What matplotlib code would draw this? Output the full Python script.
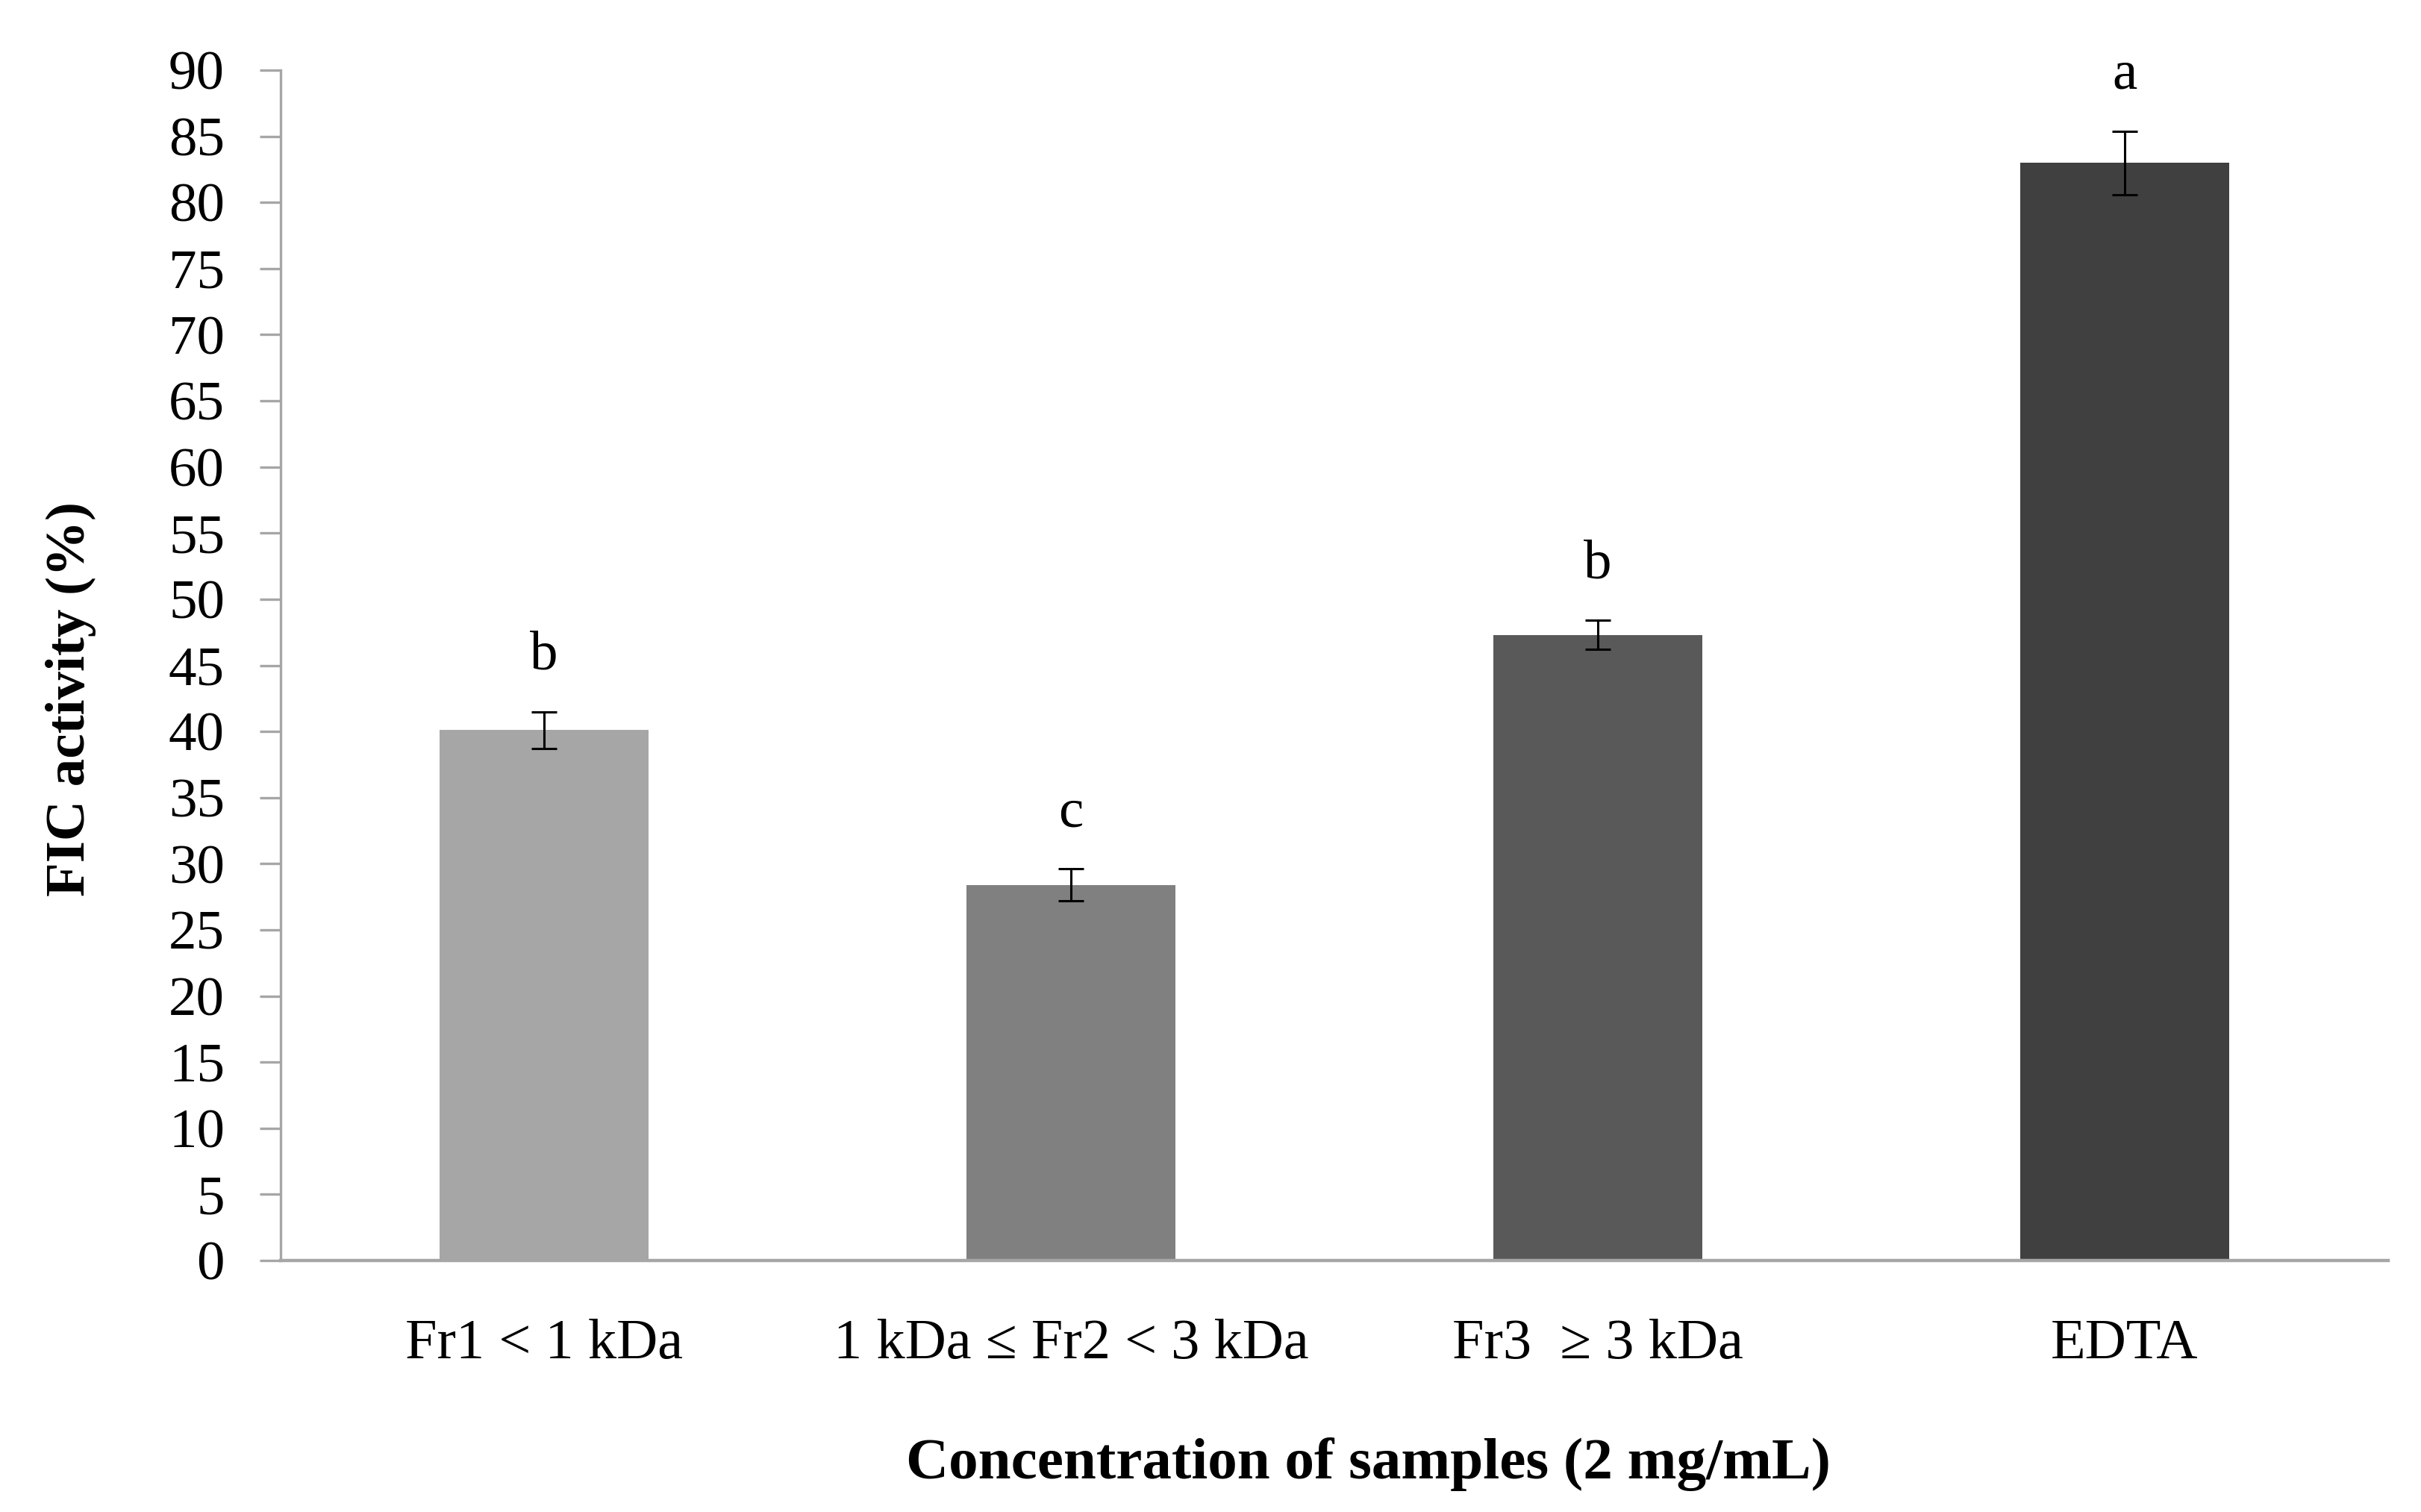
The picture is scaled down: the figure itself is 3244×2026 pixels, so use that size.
import matplotlib
matplotlib.use('Agg')
import matplotlib.pyplot as plt
import numpy as np

plt.rcParams['font.family'] = ['Liberation Serif', 'DejaVu Serif']

categories = ['Fr1 < 1 kDa', '1 kDa \u2264 Fr2 < 3 kDa', 'Fr3  \u2265 3 kDa', 'EDTA']
fic = [40.1, 28.4, 47.3, 83.0]
err = [1.4, 1.2, 1.1, 2.4]
letters = ['b', 'c', 'b', 'a']
colors = ['#A6A6A6', '#808080', '#595959', '#404040']
yticks = list(range(0, 91, 5))

fig = plt.figure(figsize=(16.22, 10.13), dpi=200)
ax = fig.add_axes([0.1159, 0.1663, 0.8705, 0.7873])

x = np.arange(len(categories))
ax.bar(x, fic, width=0.397, color=colors, zorder=2)
ax.errorbar(x, fic, yerr=err, fmt='none', ecolor='black', elinewidth=1.1,
            capsize=6, capthick=1.1, zorder=3)

# significance letters above the error bars
for xi, v, e, l in zip(x, fic, err, letters):
    ax.text(xi, v + e + 3.2, l, ha='center', va='baseline', fontsize=27)

ax.set_xlim(-0.5, 3.5)
ax.set_ylim(0, 90)
ax.set_yticks(yticks)
ax.set_xticks(x)
ax.set_xticklabels(categories, fontsize=27.5)
ax.tick_params(axis='y', labelsize=27, length=10, width=1.2, color='#A6A6A6', pad=17)
ax.tick_params(axis='x', length=0, pad=28)

for s in ['top', 'right']:
    ax.spines[s].set_visible(False)
ax.spines['left'].set_color('#A6A6A6')
ax.spines['left'].set_linewidth(1.2)
ax.spines['bottom'].set_color('#A6A6A6')
ax.spines['bottom'].set_linewidth(1.6)

ax.set_ylabel('FIC activity (%)', fontsize=27, fontweight='bold', va='center')
ax.yaxis.set_label_coords(-0.0995, 0.472)
ax.set_xlabel('Concentration of samples (2 mg/mL)', fontsize=28.5, fontweight='bold', va='center')
ax.xaxis.set_label_coords(0.516, -0.171)

fig.savefig('out.png', dpi=200)
